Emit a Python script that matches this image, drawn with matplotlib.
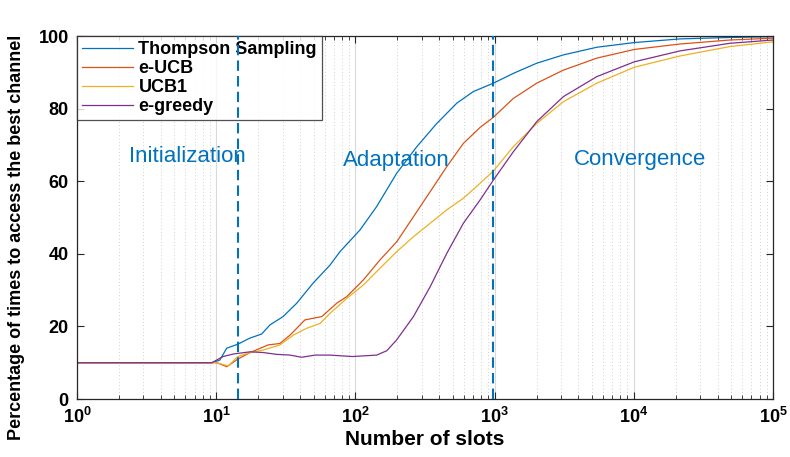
import matplotlib
matplotlib.use("Agg")
import matplotlib.pyplot as plt

plt.rcParams['font.family'] = ['Liberation Sans', 'DejaVu Sans']

# values (slots, percentage)
ts_x = [1, 9.3, 10.6, 11.9, 14.3, 17.5, 21.2, 24.3, 30.2, 37.9, 49.6, 65.7, 77.5,
        108, 142, 198, 276, 384, 535, 703, 979, 1362, 2005, 3118, 5414, 10090,
        21470, 49120, 100000]
ts_y = [10, 10, 10.7, 14, 15.1, 16.8, 17.9, 20.4, 22.7, 26.4, 31.9, 36.9, 40.6,
        46.6, 53, 62.2, 69.5, 75.9, 81.5, 84.7, 87, 89.7, 92.5, 94.8, 96.9, 98.2,
        99.2, 99.6, 99.8]

eucb_x = [1, 9.3, 10.1, 11.9, 14.3, 17.5, 23.6, 28.7, 33.9, 43.4, 57.3, 73.4, 86.6,
          114, 150, 198, 261, 344, 453, 596, 785, 979, 1362, 2005, 3118, 5414,
          10090, 21470, 49120, 100000]
eucb_y = [10, 10, 10, 8.9, 11, 12.8, 14.9, 15.3, 17.6, 21.8, 22.7, 26.4, 28.2,
          32.8, 38.3, 43.3, 50.2, 57.1, 64, 70.4, 74.8, 77.6, 82.8, 87, 90.6, 93.9,
          96.3, 97.8, 98.9, 99.4]

ucb1_x = [1, 9.3, 10.1, 12.2, 14.3, 17.5, 21.8, 28.7, 35.8, 44.7, 55.7, 65.7, 86.6,
          114, 150, 198, 261, 344, 453, 596, 785, 979, 1362, 2005, 3118, 5414,
          10090, 21470, 49120, 100000]
ucb1_y = [10, 10, 10, 9.1, 11.7, 12.8, 13.5, 14.9, 17.6, 19.5, 20.8, 23.6, 27.7,
          31.4, 36, 40.6, 44.7, 48.4, 52.1, 55.3, 59.4, 62.8, 69.5, 75.9, 81.9, 87,
          91.4, 94.5, 97.1, 98.4]

eg_x = [1, 9.3, 11.2, 13.3, 17.5, 21.8, 27.2, 33.9, 41.1, 51.3, 65.7, 95, 142,
        168, 198, 261, 344, 453, 596, 785, 979, 1362, 2005, 3118, 5414, 10090,
        21470, 49120, 100000]
eg_y = [10, 10, 11.7, 12.4, 13, 12.8, 12.3, 12.1, 11.5, 12.1, 12.1, 11.7, 12.1,
        13.3, 16.3, 22.7, 30.9, 40.1, 48.4, 54.8, 60.3, 68.1, 76.4, 83.3, 88.8,
        92.9, 95.9, 98, 98.9]

phase_bounds = [14.3, 970]
phase_names = ['Initialization', 'Adaptation', 'Convergence']
phase_pos = [(6.2, 66.7), (196, 65.6), (11090, 66.1)]

blue, red, yellow, purple = '#0072BD', '#D95319', '#EDB120', '#7E2F8E'

fig = plt.figure(figsize=(7.9, 4.57), dpi=100)
ax = fig.add_axes([0.0975, 0.1269, 0.881, 0.7943])

ax.plot(ts_x, ts_y, color=blue, lw=0.9, label='Thompson Sampling')
ax.plot(eucb_x, eucb_y, color=red, lw=0.9, label='e-UCB')
ax.plot(ucb1_x, ucb1_y, color=yellow, lw=0.9, label='UCB1')
ax.plot(eg_x, eg_y, color=purple, lw=0.9, label='e-greedy')

# dashed phase borders sit above the legend box, as in the original
for b in phase_bounds:
    ax.axvline(b, color=blue, lw=1.5, linestyle=(0, (5, 2.5)), zorder=6)
for name, (px, py) in zip(phase_names, phase_pos):
    ax.text(px, py, name, color=blue, fontsize=16, ha='center', va='center')

ax.set_xscale('log')
ax.set_xlim(1, 1e5)
ax.set_ylim(0, 100)
ax.set_yticks([0, 20, 40, 60, 80, 100])

ax.grid(True, axis='x', which='major', color='#d9d9d9', lw=0.8, linestyle='-')
ax.grid(True, axis='x', which='minor', color='#bfbfbf', lw=0.6, linestyle=(0, (1, 3)))
ax.set_axisbelow(True)

ax.tick_params(which='both', direction='in', top=True, right=True, color='#262626')
ax.tick_params(which='major', length=5, width=0.8, labelsize=13, pad=6)
ax.tick_params(which='minor', length=3, width=0.6)
for lab in ax.get_xticklabels() + ax.get_yticklabels():
    lab.set_fontweight('bold')
for s in ax.spines.values():
    s.set_color('#262626')
    s.set_linewidth(0.9)

ax.set_xlabel('Number of slots', fontsize=15, fontweight='bold', labelpad=2)
ax.set_ylabel('Percentage of times to access the best channel', fontsize=13,
              fontweight='bold')
ax.yaxis.set_label_coords(-0.075, 0.445)

leg = ax.legend(loc='upper left', borderaxespad=0, fancybox=False,
                prop={'weight': 'bold', 'size': 13}, handlelength=2.8,
                handletextpad=0.3, labelspacing=0.1, borderpad=0.3)
leg.set_zorder(5)
leg.get_frame().set_edgecolor('#262626')
leg.get_frame().set_linewidth(0.9)

fig.savefig('out.png', dpi=100)
